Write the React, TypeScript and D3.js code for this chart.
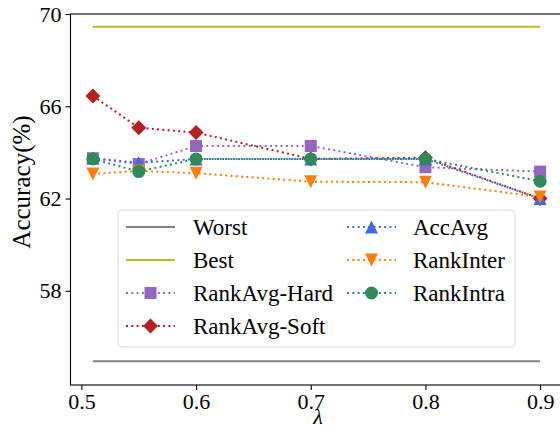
import React, { useRef, useEffect } from 'react';
import * as d3 from 'd3';

// lambda values on the x axis
const lambdas = [0.51, 0.55, 0.6, 0.7, 0.8, 0.9];
const xTicks = [0.5, 0.6, 0.7, 0.8, 0.9];
const yTicks = [58, 62, 66, 70];

const worst = 54.95;
const best = 69.45;
const rankAvgHard = [63.75, 63.5, 64.28, 64.28, 63.36, 63.17];
const rankAvgSoft = [66.45, 65.07, 64.86, 63.72, 63.77, 62.0];
const accAvg = [63.75, 63.55, 63.72, 63.72, 63.72, 62.0];
const rankInter = [63.07, 63.2, 63.1, 62.73, 62.71, 62.07];
const rankIntra = [63.72, 63.17, 63.72, 63.72, 63.72, 62.75];

type Series = { name: string; values: number[]; color: string; marker: string | null; dotted: boolean };

const series: Series[] = [
  { name: 'Worst', values: lambdas.map(() => worst), color: '#808080', marker: null, dotted: false },
  { name: 'Best', values: lambdas.map(() => best), color: '#bcbd22', marker: null, dotted: false },
  { name: 'RankAvg-Hard', values: rankAvgHard, color: '#9467bd', marker: 'square', dotted: true },
  { name: 'RankAvg-Soft', values: rankAvgSoft, color: '#b22222', marker: 'diamond', dotted: true },
  { name: 'AccAvg', values: accAvg, color: '#4169e1', marker: 'up', dotted: true },
  { name: 'RankInter', values: rankInter, color: '#ff7f0e', marker: 'down', dotted: true },
  { name: 'RankIntra', values: rankIntra, color: '#2e8b57', marker: 'circle', dotted: true },
];

const markerPath = (m: string) => {
  if (m === 'square') return 'M-6,-6H6V6H-6Z';
  if (m === 'diamond') return 'M0,-7.5L7.5,0L0,7.5L-7.5,0Z';
  if (m === 'up') return 'M0,-6.5L6.5,6.5L-6.5,6.5Z';
  if (m === 'down') return 'M0,6.5L6.5,-6.5L-6.5,-6.5Z';
  return d3.symbol(d3.symbolCircle, Math.PI * 6.5 * 6.5)() as string;
};

const FONT = "'Liberation Serif', 'Times New Roman', serif";

const App = () => {
  const svgRef = useRef<SVGSVGElement>(null);

  useEffect(() => {
    d3.select(svgRef.current).selectAll('*').remove();

    const width = 560;
    const height = 430;
    const left = 70.5, right = 562.5, top = 14, bottom = 385;

    const x = d3.scaleLinear().domain([0.4905, 0.9195]).range([left, right]);
    const y = d3.scaleLinear().domain([53.92, 70]).range([bottom, top]);

    const svg = d3.select(svgRef.current)
      .attr('width', width)
      .attr('height', height)
      .style('font-family', FONT);

    svg.append('rect').attr('width', width).attr('height', height).attr('fill', '#fff');

    // axes
    const xAxis = svg.append('g')
      .attr('transform', `translate(0, ${bottom})`)
      .call(d3.axisBottom(x).tickValues(xTicks).tickFormat(d3.format('.1f')).tickSize(5).tickSizeOuter(0).tickPadding(3));
    const yAxis = svg.append('g')
      .attr('transform', `translate(${left}, 0)`)
      .call(d3.axisLeft(y).tickValues(yTicks).tickSize(5).tickSizeOuter(0).tickPadding(4));
    [xAxis, yAxis].forEach(g => {
      g.attr('font-family', null);
      g.select('.domain').remove();
      g.selectAll('text').style('font-family', FONT).attr('font-size', 22).attr('fill', '#000');
      g.selectAll('line').attr('stroke', '#000').attr('stroke-width', 1.1);
    });

    // lines and markers
    const line = d3.line<number>()
      .x((d, i) => x(lambdas[i]))
      .y(d => y(d));

    series.forEach(s => {
      svg.append('path')
        .datum(s.values)
        .attr('d', line)
        .attr('fill', 'none')
        .attr('stroke', s.color)
        .attr('stroke-width', 2)
        .attr('stroke-dasharray', s.dotted ? '2,3.3' : null);
      if (s.marker) {
        svg.append('g')
          .selectAll('path')
          .data(s.values)
          .join('path')
          .attr('transform', (d, i) => `translate(${x(lambdas[i])},${y(d)})`)
          .attr('d', markerPath(s.marker))
          .attr('fill', s.color);
      }
    });

    // frame
    svg.append('rect')
      .attr('x', left).attr('y', top)
      .attr('width', right - left).attr('height', bottom - top)
      .attr('fill', 'none').attr('stroke', '#000').attr('stroke-width', 1.1);

    // legend
    const lg = svg.append('g');
    lg.append('rect')
      .attr('x', 118).attr('y', 210).attr('width', 397).attr('height', 137)
      .attr('rx', 4)
      .attr('fill', 'rgba(255,255,255,0.8)')
      .attr('stroke', '#d9d9d9').attr('stroke-width', 1);
    const rowY = [227, 260, 293, 326];
    const cols = [{ x0: 126, x1: 175, tx: 193 }, { x0: 347, x1: 396, tx: 413 }];
    series.forEach((s, i) => {
      const c = cols[i < 4 ? 0 : 1];
      const ry = rowY[i < 4 ? i : i - 4];
      lg.append('line')
        .attr('x1', c.x0).attr('x2', c.x1).attr('y1', ry).attr('y2', ry)
        .attr('stroke', s.color).attr('stroke-width', 2)
        .attr('stroke-dasharray', s.dotted ? '2,3.3' : null);
      if (s.marker) {
        lg.append('path')
          .attr('transform', `translate(${(c.x0 + c.x1) / 2},${ry})`)
          .attr('d', markerPath(s.marker))
          .attr('fill', s.color);
      }
      lg.append('text')
        .attr('x', c.tx).attr('y', ry).attr('dy', '0.35em')
        .attr('font-size', 23)
        .text(s.name);
    });

    // axis titles
    svg.append('text')
      .attr('transform', `translate(30, 182) rotate(-90)`)
      .attr('text-anchor', 'middle')
      .attr('font-size', 25)
      .text('Accuracy(%)');
    svg.append('text')
      .attr('x', 318).attr('y', 424)
      .attr('text-anchor', 'middle')
      .attr('font-size', 22).attr('font-style', 'italic')
      .text('λ');
  }, []);

  return (
    <svg ref={svgRef} style={{ position: 'absolute', left: 0, top: 0 }}></svg>
  );
};

export default App;
